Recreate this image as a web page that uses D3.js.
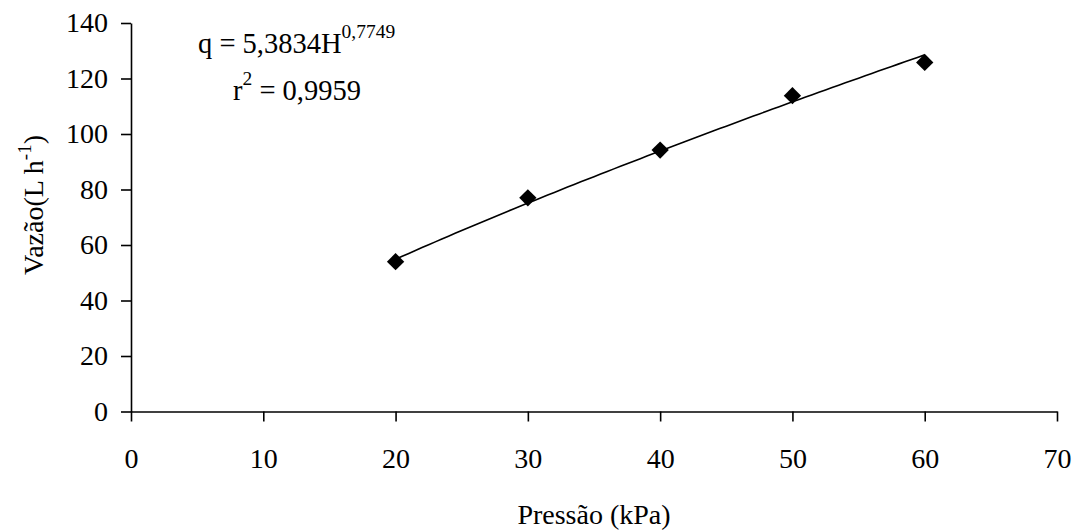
<!DOCTYPE html>
<html>
<head>
<meta charset="utf-8">
<script src="https://cdn.jsdelivr.net/npm/d3@7"></script>
<style>
  body { margin: 0; background: #fff; }
  .axis path, .axis line { stroke: #000; stroke-width: 1.6px; }
</style>
</head>
<body>
<div id="chart"></div>
<script>
// measured points
const pressure = [20, 30, 40, 50, 60];
const flow = [54.0, 77.0, 94.2, 113.8, 125.8];

// x and y ticks
const xTicks = [0, 10, 20, 30, 40, 50, 60, 70];
const yTicks = [0, 20, 40, 60, 80, 100, 120, 140];

// power fit shown on the chart: q = a * H^b
const fitA = 5.3834;
const fitB = 0.7749;
const fitRange = [20, 60];

const width = 1078;
const height = 530;
const margin = { top: 23, right: 21, bottom: 118.5, left: 131 };
const FONT = '"Liberation Serif"';

const svg = d3.select("#chart").append("svg")
    .attr("width", width)
    .attr("height", height);

const x = d3.scaleLinear().domain([0, 70]).range([margin.left, width - margin.right]);
const y = d3.scaleLinear().domain([0, 140]).range([height - margin.bottom, margin.top]);

// axes
const xAxis = svg.append("g")
    .attr("class", "axis")
    .attr("transform", `translate(0,${y(0)})`)
    .call(d3.axisBottom(x).tickValues(xTicks).tickSize(10).tickSizeOuter(0));
xAxis.selectAll("text")
    .attr("font-family", FONT).attr("font-size", 28).attr("fill", "#000")
    .attr("y", 0).attr("dy", null).attr("transform", "translate(0,56.5)");

const yAxis = svg.append("g")
    .attr("class", "axis")
    .attr("transform", `translate(${x(0)},0)`)
    .call(d3.axisLeft(y).tickValues(yTicks).tickSize(10).tickSizeOuter(0));
yAxis.selectAll("text")
    .attr("font-family", FONT).attr("font-size", 28).attr("fill", "#000")
    .attr("x", -23);

// fitted curve
const fitPts = d3.range(fitRange[0], fitRange[1] + 0.001, 0.5).map(h => [h, fitA * Math.pow(h, fitB)]);
svg.append("path")
    .datum(fitPts)
    .attr("fill", "none")
    .attr("stroke", "#000")
    .attr("stroke-width", 1.6)
    .attr("d", d3.line().x(d => x(d[0])).y(d => y(d[1])));

// markers
svg.selectAll("path.pt")
    .data(pressure)
    .enter().append("path")
    .attr("class", "pt")
    .attr("d", d3.symbol().type(d3.symbolSquare).size(150))
    .attr("transform", (d, i) => `translate(${x(d)},${y(flow[i])}) rotate(45)`)
    .attr("fill", "#000");

// axis titles
svg.append("text")
    .attr("x", (x(0) + x(70)) / 2)
    .attr("y", 524)
    .attr("text-anchor", "middle")
    .attr("font-family", FONT)
    .attr("font-size", 28)
    .text("Pressão (kPa)");

const yt = svg.append("text")
    .attr("transform", `translate(43,205) rotate(-90)`)
    .attr("text-anchor", "middle")
    .attr("font-family", FONT)
    .attr("font-size", 28);
yt.append("tspan").text("Vazão(L h");
yt.append("tspan").attr("dy", -12).attr("font-size", 19).text("-1");
yt.append("tspan").attr("dy", 12).text(")");

// equation
const eq = svg.append("text")
    .attr("x", 198)
    .attr("y", 53)
    .attr("font-family", FONT)
    .attr("font-size", 28.5);
eq.append("tspan").text("q = 5,3834H");
eq.append("tspan").attr("dy", -15).attr("font-size", 19.5).text("0,7749");

const r2 = svg.append("text")
    .attr("x", 233)
    .attr("y", 100)
    .attr("font-family", FONT)
    .attr("font-size", 28.5);
r2.append("tspan").text("r");
r2.append("tspan").attr("dy", -15).attr("font-size", 19.5).text("2");
r2.append("tspan").attr("dy", 15).text(" = 0,9959");
</script>
</body>
</html>
